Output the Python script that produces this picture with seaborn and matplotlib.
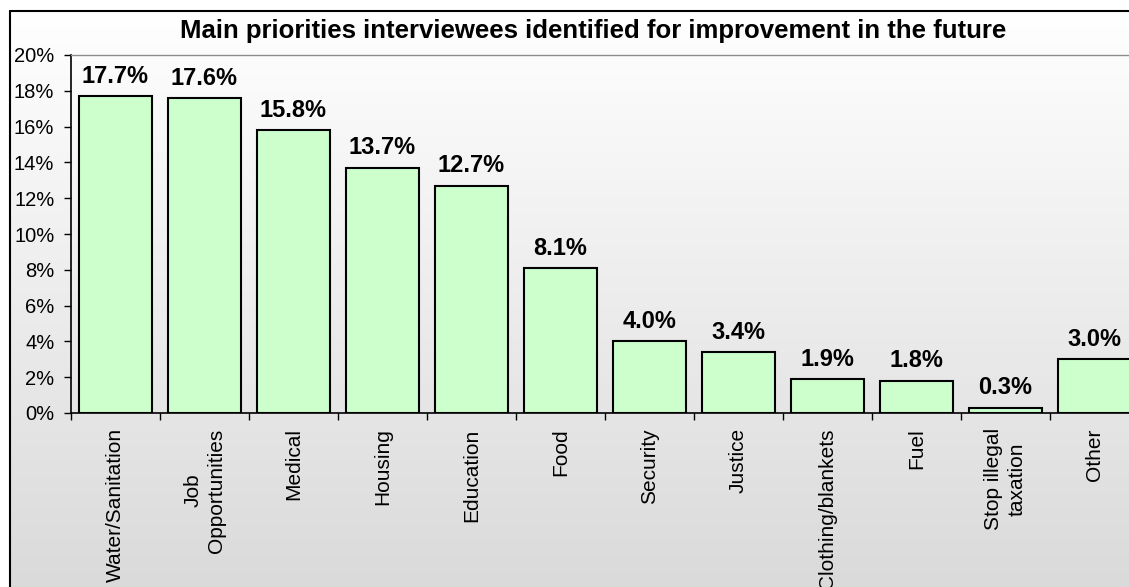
import numpy as np
import pandas as pd
import matplotlib
matplotlib.use("Agg")
import matplotlib.pyplot as plt
from matplotlib.lines import Line2D
from matplotlib.ticker import FuncFormatter, FixedLocator
import seaborn as sns

# Survey results: share of interviewees naming each priority (%)
categories = ["Water/Sanitation", "Job\nOpportunities", "Medical", "Housing",
              "Education", "Food", "Security", "Justice", "Clothing/blankets",
              "Fuel", "Stop illegal\ntaxation", "Other"]
shares = [17.7, 17.6, 15.8, 13.7, 12.7, 8.1, 4.0, 3.4, 1.9, 1.8, 0.3, 3.0]
y_ticks = [0, 2, 4, 6, 8, 10, 12, 14, 16, 18, 20]
title = "Main priorities interviewees identified for improvement in the future"

sns.set_style("white")
plt.rcParams["font.family"] = ["Liberation Sans", "DejaVu Sans"]
plt.rcParams["text.color"] = "black"
plt.rcParams["xtick.color"] = "black"
plt.rcParams["ytick.color"] = "black"
plt.rcParams["axes.labelcolor"] = "black"

W, H = 1129, 587
fig = plt.figure(figsize=(W / 100, H / 100), dpi=100)
fig.patch.set_facecolor("white")

# Chart-area background: vertical white-to-grey gradient inside the frame
bx0, by1 = 10 / W, 1 - 11 / H
bg = fig.add_axes([bx0, 0, 1 - bx0, by1])
grad = np.linspace(218, 255, 256).reshape(-1, 1) / 255.0
bg.imshow(np.dstack([grad, grad, grad]), aspect="auto", origin="lower",
          extent=[0, 1, 0, 1])
bg.set_axis_off()

# Chart-area frame (left and top edges)
fig.add_artist(Line2D([bx0, bx0], [0, by1], transform=fig.transFigure,
                      color="black", lw=1.5))
fig.add_artist(Line2D([bx0, 1], [by1, by1], transform=fig.transFigure,
                      color="black", lw=1.5))

# Plot area
left, bottom = 71 / W, 174 / H
width, height = 12 * 89 / W, (413 - 55) / H
ax = fig.add_axes([left, bottom, width, height])
ax.patch.set_alpha(0)

df = pd.DataFrame({"priority": categories, "share": shares})
sns.barplot(data=df, x="priority", y="share", color="#ccffcc",
            saturation=1, edgecolor="black", linewidth=1.5, width=0.82, ax=ax)

ax.set_xlim(-0.5, len(categories) - 0.5)
ax.set_ylim(0, 20)
ax.set_yticks(y_ticks)
ax.yaxis.set_major_formatter(FuncFormatter(lambda v, p: f"{v:.0f}%"))
ax.set_xlabel("")
ax.set_ylabel("")

# Category boundary ticks on the x axis, labels at bar centres
ax.xaxis.set_minor_locator(FixedLocator(np.arange(-0.5, len(categories), 1.0)))
ax.tick_params(axis="x", which="major", length=0, pad=11, labelsize=15,
               labelrotation=90, labelcolor="black")
ax.tick_params(axis="x", which="minor", bottom=True, length=5, width=1,
               color="black")
ax.tick_params(axis="y", which="major", left=True, length=5, width=1,
               color="black", pad=7, labelsize=14.5, labelcolor="black")
for lab in ax.get_xticklabels():
    lab.set_multialignment("center")
    lab.set_linespacing(1.3)

for side in ("left", "bottom"):
    ax.spines[side].set_color("black")
    ax.spines[side].set_linewidth(1.2)
ax.spines["top"].set_color("#8c8c8c")
ax.spines["top"].set_linewidth(1.0)
ax.spines["right"].set_visible(False)

ax.bar_label(ax.containers[0], fmt="%.1f%%", padding=6, fontsize=17,
             fontweight="bold", color="black")

fig.text(593 / W, 1 - 38 / H, title, ha="center", va="baseline",
         fontsize=18.5, fontweight="bold", color="black")

fig.savefig("out.png", dpi=100)
